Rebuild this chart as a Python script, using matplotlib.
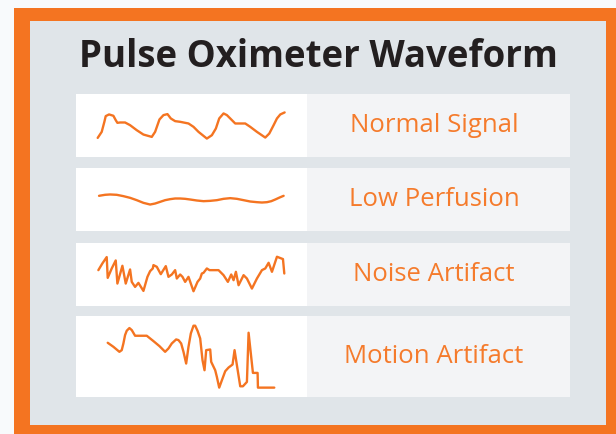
import matplotlib
matplotlib.use("Agg")
import matplotlib.pyplot as plt
from matplotlib.patches import Rectangle

# --- DATA (t = time samples, v = amplitude)
TITLE = "Pulse Oximeter Waveform"
LABELS = ["Normal Signal", "Low Perfusion", "Noise Artifact", "Motion Artifact"]

normal_t = [65, 77, 85, 89, 99, 112, 119, 124, 132, 147, 162, 182, 202, 227, 237, 250, 262, 274, 284, 297,
            312, 337, 352, 367, 392, 407, 419, 429, 442, 452, 462, 477, 492, 507, 522, 542, 567, 579, 592, 602, 612, 625]
normal_v = [57, 75, 105, 122, 127, 123, 110, 102, 103, 103, 95, 80, 67, 60, 75, 112, 125, 128, 115, 107,
            105, 100, 90, 75, 55, 65, 85, 115, 130, 125, 115, 100, 100, 100, 90, 75, 58, 70, 95, 115, 127, 133]

lowperf_t = [69, 87, 102, 122, 142, 162, 182, 202, 222, 237, 252, 267, 282, 297, 312, 327, 342,
             362, 382, 402, 422, 442, 462, 482, 502, 522, 542, 557, 572, 585, 597, 610, 622]
lowperf_v = [105, 108, 109, 108, 104, 99, 92, 84, 79, 82, 87, 92, 95, 97, 97, 96, 94,
             91, 89, 90, 92, 96, 98, 96, 92, 88, 86, 85, 86, 89, 94, 100, 105]

noise_t = [67, 79, 92, 95, 107, 119, 124, 139, 149, 162, 167, 177, 187, 202, 214, 222, 230, 232, 242, 254,
           269, 277, 287, 297, 302, 312, 319, 327, 337, 352, 364, 372, 377, 382, 392, 400, 427, 442, 455, 465,
           472, 479, 487, 502, 512, 527, 542, 557, 567, 577, 587, 602, 620, 624]
noise_v = [107, 127, 146, 84, 112, 136, 67, 120, 67, 109, 72, 57, 69, 45, 87, 104, 112, 122, 117, 95,
           119, 87, 94, 107, 82, 94, 87, 72, 87, 44, 72, 82, 97, 99, 112, 107, 107, 92, 72, 94,
           77, 102, 62, 92, 82, 52, 82, 107, 112, 129, 102, 147, 140, 97]

motion_t = [95, 112, 130, 137, 142, 147, 152, 160, 167, 177, 212, 232, 250, 267, 277, 287, 300, 307, 315, 322,
            330, 337, 344, 352, 357, 364, 372, 379, 385, 390, 402, 405, 417, 422, 429, 437, 447, 457, 469, 475,
            482, 492, 500, 512, 517, 530, 544, 545, 594]
motion_v = [162, 150, 135, 140, 160, 185, 198, 206, 200, 183, 183, 167, 152, 135, 145, 160, 172, 170, 160, 135,
            100, 150, 190, 213, 213, 198, 175, 110, 80, 140, 142, 105, 80, 60, 28, 50, 77, 88, 97, 140,
            95, 32, 32, 45, 192, 72, 72, 28, 28]

SERIES = [(normal_t, normal_v), (lowperf_t, lowperf_v), (noise_t, noise_v), (motion_t, motion_v)]

# --- STYLE / LAYOUT (pixels, figure is 616 x 434)
W, H = 616, 434
ORANGE = "#f47421"
TEXT_ORANGE = "#f57b2c"
GRAY = "#e0e5e9"
PANEL_R = "#f3f4f6"
BG = "#f8fafc"

ROWS_Y = [(94, 157), (168, 231), (243, 306), (316, 397)]
ROW_VSPAN = [188, 188, 188, 242]
LEFT_X = (76, 307)
RIGHT_X = (307, 570)

fig = plt.figure(figsize=(W / 100, H / 100), dpi=100)
fig.patch.set_facecolor(BG)

bg = fig.add_axes([0, 0, 1, 1])
bg.set_xlim(0, W)
bg.set_ylim(H, 0)
bg.axis("off")

bg.add_patch(Rectangle((14, 8), W - 14, H - 8, color=ORANGE, lw=0))
bg.add_patch(Rectangle((30, 21), 576, 404, color=GRAY, lw=0))

bg.text(318, 57, TITLE, ha="center", va="center", fontsize=26.4, fontweight="bold",
        family="Open Sans", color="#231f20")

for i, (y0, y1) in enumerate(ROWS_Y):
    bg.add_patch(Rectangle((LEFT_X[0], y0), LEFT_X[1] - LEFT_X[0], y1 - y0, color="white", lw=0))
    bg.add_patch(Rectangle((RIGHT_X[0], y0), RIGHT_X[1] - RIGHT_X[0], y1 - y0, color=PANEL_R, lw=0))
    bg.text(434, (y0 + y1) / 2, LABELS[i], ha="center", va="center", fontsize=18.5,
            family="Open Sans", color=TEXT_ORANGE)

    t, v = SERIES[i]
    ax = fig.add_axes([LEFT_X[0] / W, 1 - y1 / H, (LEFT_X[1] - LEFT_X[0]) / W, (y1 - y0) / H])
    ax.set_xlim(0, 692)
    ax.set_ylim(0, ROW_VSPAN[i])
    ax.axis("off")
    ax.plot(t, v, color=ORANGE, lw=1.7, solid_joinstyle="round", solid_capstyle="round")

plt.savefig("out.png", dpi=100, facecolor=BG)
